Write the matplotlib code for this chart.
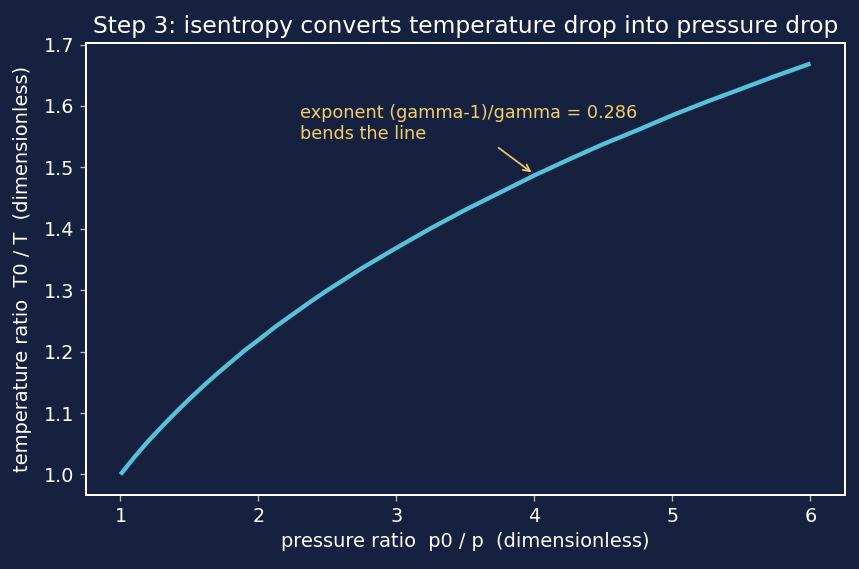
import matplotlib
matplotlib.use("Agg")
import matplotlib.pyplot as plt

# pressure ratio p0/p and temperature ratio T0/T
pressure_ratio = [1.0, 1.05, 1.1, 1.15, 1.2, 1.3, 1.4, 1.5, 1.6, 1.7, 1.8, 1.9,
                  2.0, 2.125, 2.25, 2.375, 2.5, 2.75, 3.0, 3.25, 3.5, 3.75,
                  4.0, 4.25, 4.5, 4.75, 5.0, 5.25, 5.5, 5.75, 6.0]
temperature_ratio = [1.000, 1.014, 1.028, 1.041, 1.054, 1.078, 1.101, 1.123, 1.144,
                     1.164, 1.183, 1.202, 1.219, 1.241, 1.261, 1.281, 1.300,
                     1.336, 1.369, 1.401, 1.431, 1.459, 1.487, 1.513, 1.538, 1.561,
                     1.585, 1.607, 1.628, 1.649, 1.669]

BG = "#15213f"
LINE = "#56c1d9"
NOTE = "#f2cf6a"

fig = plt.figure(figsize=(859 / 120, 569 / 120), dpi=120, facecolor=BG)
ax = fig.add_axes([0.1001, 0.130, 0.8836, 0.7944], facecolor=BG)

ax.plot(pressure_ratio, temperature_ratio, color=LINE, linewidth=2.6,
        solid_joinstyle="round", solid_capstyle="butt")

ax.text(2.3, 1.603, "exponent (gamma-1)/gamma = 0.286\nbends the line",
        color=NOTE, fontsize=10.6, va="top", ha="left")
ax.annotate("", xy=(3.978, 1.492), xytext=(3.739, 1.532),
            arrowprops=dict(arrowstyle="->", color=NOTE, lw=1,
                            shrinkA=0, shrinkB=0))

ax.set_title("Step 3: isentropy converts temperature drop into pressure drop",
             color="white", fontsize=14)
ax.set_xlabel("pressure ratio  p0 / p  (dimensionless)", color="white", fontsize=11.6)
ax.set_ylabel("temperature ratio  T0 / T  (dimensionless)", color="white",
              fontsize=11.6, labelpad=7)
ax.set_xticks([1, 2, 3, 4, 5, 6])
ax.set_yticks([1.0, 1.1, 1.2, 1.3, 1.4, 1.5, 1.6, 1.7])
ax.tick_params(colors="#bbbbbb", labelcolor="white", labelsize=11.5)
for s in ax.spines.values():
    s.set_color("white")
    s.set_linewidth(1.2)

fig.savefig("out.png", dpi=120, facecolor=BG)
